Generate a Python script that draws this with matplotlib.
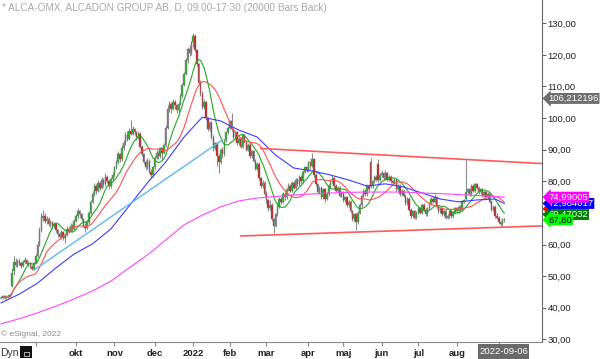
import matplotlib
matplotlib.use('Agg')
import matplotlib.pyplot as plt
from matplotlib.patches import Rectangle
import numpy as np
import pandas as pd

# trading days (Stockholm holidays removed)
holidays = ['2021-12-24', '2021-12-31', '2022-01-06', '2022-04-15', '2022-04-18',
            '2022-05-26', '2022-06-06', '2022-06-24']
dates = pd.bdate_range('2021-08-05', '2022-09-06', freq='C', holidays=holidays)

opens = [
    43.0, 43.2, 43.6, 43.0, 43.4, 43.8, 47.0, 51.5, 54.5, 53.5, 54.8, 54.0, 53.2, 54.6, 55.0, 53.8, 54.2, 53.0, 52.4,
    54.0, 56.5, 60.0, 64.5, 68.5, 69.0, 67.5, 68.2, 66.5, 67.0, 65.8, 66.4, 64.5, 63.2, 62.5, 63.8, 62.2, 63.0, 65.0, 64.2, 66.0, 64.8,
    67.5, 69.0, 70.5, 69.5, 68.0, 66.0, 65.2, 67.0, 70.0, 73.5, 76.0, 78.5, 77.0, 79.5, 78.0, 80.5, 79.0, 81.5, 80.0, 78.5, 80.8,
    82.0, 84.5, 86.0, 88.5, 87.0, 90.5, 92.0, 94.5, 93.5, 96.0, 95.0, 96.5, 95.5, 94.0, 95.0, 91.0, 88.5, 86.0, 84.5, 86.5, 83.0, 82.0,
    84.5, 87.5, 89.0, 88.0, 90.5, 89.0, 91.5, 97.0, 103.0, 104.5, 103.0, 105.0, 104.0, 102.5, 104.5, 107.0, 110.5, 114.0, 118.5, 122.0, 120.5,
    124.0, 126.0, 121.5, 117.0, 111.0, 108.0, 103.5, 105.0, 100.0, 96.5, 98.5, 94.0, 90.5, 92.0, 88.0, 86.0, 90.0, 88.5, 93.0, 95.5,
    97.0, 99.0, 96.5, 94.0, 95.5, 92.0, 93.5, 91.0, 94.5, 92.5, 90.0, 91.5, 88.0, 89.5, 86.5, 84.0, 85.5, 81.0, 78.5, 79.5,
    76.0, 74.0, 71.5, 72.5, 68.0, 66.0, 69.5, 72.0, 74.5, 73.5, 76.0, 75.0, 77.5, 78.5, 77.0, 79.5, 78.0, 80.5, 79.0, 81.5, 80.0, 83.0, 84.5,
    83.5, 86.0, 85.0, 87.0, 82.0, 79.0, 76.5, 78.0, 75.0, 77.5, 74.5, 76.0, 78.5, 80.0, 81.0, 78.5, 77.0, 78.0, 75.5,
    76.5, 74.0, 75.0, 72.5, 73.5, 70.5, 68.0, 69.5, 67.0, 70.0, 72.5, 75.5, 77.0, 76.0, 78.5, 86.0, 78.5, 80.0, 81.5, 85.5, 80.5,
    82.0, 82.5, 81.0, 82.5, 80.5, 81.5, 80.0, 79.5, 80.5, 77.5, 78.5, 76.0, 77.0, 75.5, 73.0, 74.5, 71.0, 69.0, 70.5, 68.5,
    70.0, 71.5, 70.0, 72.5, 71.0, 69.5, 71.5, 73.0, 74.5, 73.5, 75.0, 72.0, 70.5, 71.5, 69.5, 70.5, 68.5, 69.0, 70.5, 69.0, 70.0,
    71.5, 70.5, 72.0, 71.0, 73.5, 74.5, 76.5, 77.5, 76.0, 78.5, 77.0, 79.0, 78.0, 76.5, 77.5, 75.5, 76.5, 75.0, 76.0, 73.5, 71.0, 72.0, 69.0,
    68.5, 67.0, 66.5, 68.0,
]
highs = [
    43.8, 44.0, 43.9, 43.9, 44.3, 44.6, 52.5, 56.5, 55.8, 55.5, 55.6, 54.6, 55.0, 56.0, 55.4, 54.8, 54.5, 53.6, 54.5,
    57.0, 61.0, 65.5, 70.0, 71.0, 70.0, 69.0, 68.8, 67.8, 67.5, 67.2, 66.8, 65.0, 63.8, 64.5, 64.2, 63.6, 65.8, 65.5, 66.8, 66.5, 68.0,
    69.8, 71.5, 71.0, 70.0, 68.5, 66.8, 67.5, 70.5, 74.0, 76.8, 79.5, 79.0, 80.5, 80.0, 81.5, 81.0, 82.5, 82.0, 80.5, 81.5, 83.0,
    85.0, 86.8, 89.5, 89.0, 91.5, 93.0, 95.5, 95.8, 97.0, 99.4, 97.5, 97.0, 96.0, 95.8, 95.5, 91.5, 89.0, 86.8, 87.5, 87.0, 83.8, 85.0,
    88.0, 89.8, 89.5, 91.0, 91.0, 92.0, 97.8, 104.0, 105.5, 105.0, 106.0, 105.8, 104.5, 105.0, 107.5, 111.0, 114.5, 119.0, 122.5, 123.0, 124.5,
    127.0, 126.5, 122.0, 117.5, 112.0, 108.5, 106.0, 105.5, 100.5, 99.0, 99.0, 94.5, 92.5, 92.5, 88.5, 90.5, 91.0, 93.5, 96.0, 97.5,
    99.5, 101.6, 97.0, 96.0, 96.0, 94.0, 94.0, 95.0, 95.0, 93.0, 92.0, 92.0, 90.0, 90.0, 87.0, 86.0, 86.0, 81.5, 80.5, 80.0,
    77.0, 74.5, 74.0, 73.0, 68.5, 70.0, 73.0, 75.0, 75.0, 76.5, 76.5, 78.0, 79.5, 79.0, 80.0, 80.0, 81.0, 81.0, 82.0, 82.0, 83.5, 85.0, 85.0,
    86.5, 86.5, 89.0, 87.5, 82.5, 79.5, 78.5, 78.5, 78.0, 78.0, 76.5, 79.0, 80.5, 82.0, 81.5, 79.0, 78.5, 78.5, 77.0,
    77.0, 75.5, 75.5, 74.0, 74.0, 71.0, 70.0, 70.0, 70.5, 73.0, 76.0, 77.5, 77.5, 79.0, 79.0, 87.5, 80.5, 82.0, 82.0, 87.0, 82.5,
    83.5, 83.0, 83.5, 83.0, 82.0, 82.0, 80.5, 81.0, 81.0, 79.0, 79.0, 77.5, 77.5, 76.0, 75.0, 75.0, 71.5, 71.0, 71.0, 70.5,
    72.0, 72.0, 73.0, 73.0, 71.5, 72.0, 73.5, 75.0, 75.0, 76.0, 75.5, 72.5, 72.0, 72.0, 71.0, 71.0, 69.5, 71.0, 71.0, 70.5, 72.0,
    72.0, 72.5, 72.5, 74.0, 74.5, 86.7, 78.0, 78.0, 79.0, 79.0, 79.5, 79.5, 78.5, 78.0, 78.0, 77.0, 77.0, 76.5, 76.5, 74.0, 72.5, 72.5, 70.0,
    69.0, 67.5, 68.5, 68.5,
]
lows = [
    42.6, 42.9, 42.7, 42.8, 43.1, 43.4, 46.5, 50.5, 52.8, 53.0, 53.5, 52.6, 52.8, 54.0, 53.4, 53.2, 52.6, 51.8, 52.0,
    53.8, 56.0, 59.5, 64.0, 67.5, 66.8, 66.5, 65.8, 65.5, 65.0, 65.2, 64.0, 62.5, 61.8, 62.0, 61.5, 60.5, 62.6, 63.5, 63.8, 64.2, 64.5,
    67.0, 68.5, 68.8, 67.5, 65.5, 64.0, 64.8, 66.5, 69.5, 73.0, 75.5, 76.0, 76.5, 77.2, 77.5, 78.2, 78.5, 79.5, 77.5, 78.0, 80.0,
    81.5, 83.8, 85.5, 86.0, 86.5, 90.0, 91.5, 92.8, 93.0, 94.5, 94.5, 94.8, 93.0, 93.5, 90.5, 88.0, 85.5, 83.5, 84.0, 82.5, 81.2, 81.5,
    84.0, 87.0, 87.0, 87.5, 86.8, 88.5, 91.0, 96.5, 102.0, 101.5, 102.5, 103.0, 101.5, 102.0, 104.0, 106.5, 110.0, 113.5, 117.5, 119.5, 120.0,
    122.5, 121.0, 116.5, 110.5, 107.0, 103.0, 103.0, 99.5, 96.0, 96.0, 93.5, 89.5, 90.0, 85.0, 82.6, 85.5, 87.5, 88.0, 92.5, 95.0,
    96.5, 96.0, 93.5, 93.5, 91.5, 91.5, 90.5, 90.5, 92.0, 89.5, 89.5, 87.5, 87.5, 86.0, 83.5, 83.5, 80.5, 78.0, 78.0, 75.5,
    73.0, 70.5, 71.0, 67.5, 63.6, 65.5, 69.0, 71.5, 72.8, 73.0, 74.2, 74.5, 77.0, 76.5, 76.5, 77.5, 77.5, 78.5, 78.5, 79.5, 79.5, 82.5, 83.0,
    83.0, 84.0, 84.5, 81.5, 78.5, 76.0, 76.0, 74.5, 74.5, 73.5, 74.0, 75.5, 78.0, 79.5, 78.0, 76.5, 76.5, 75.0, 75.0,
    73.5, 73.5, 72.0, 72.0, 70.0, 67.5, 67.5, 64.6, 66.5, 69.5, 72.0, 75.0, 75.5, 75.5, 77.0, 78.0, 78.0, 79.5, 80.0, 79.5, 80.0,
    81.5, 80.5, 80.5, 80.0, 80.0, 79.5, 79.0, 79.0, 77.0, 77.0, 75.5, 75.5, 75.0, 72.5, 72.5, 70.5, 68.5, 68.5, 68.0, 68.0,
    69.5, 69.5, 69.5, 70.5, 69.0, 69.0, 71.0, 72.5, 73.0, 73.0, 71.5, 70.0, 70.0, 69.0, 69.0, 68.0, 68.0, 68.5, 68.5, 68.5, 69.5,
    70.0, 70.0, 70.5, 70.5, 73.0, 74.0, 76.0, 75.5, 75.5, 76.5, 76.5, 77.5, 76.0, 76.0, 75.0, 75.0, 74.5, 74.5, 73.0, 70.5, 70.5, 68.5, 68.0,
    66.5, 65.8, 66.0, 67.0,
]
closes = [
    43.2, 43.6, 43.0, 43.4, 43.8, 44.0, 51.0, 54.5, 53.5, 54.8, 54.0, 53.2, 54.6, 55.0, 53.8, 54.2, 53.0, 52.4, 54.0,
    56.5, 60.0, 64.5, 68.5, 69.0, 67.5, 68.2, 66.5, 67.0, 65.8, 66.4, 64.5, 63.2, 62.5, 63.8, 62.2, 63.0, 65.0, 64.2, 66.0, 64.8, 67.5,
    69.0, 70.5, 69.5, 68.0, 66.0, 65.2, 67.0, 70.0, 73.5, 76.0, 78.5, 77.0, 79.5, 78.0, 80.5, 79.0, 81.5, 80.0, 78.5, 80.8, 82.0,
    84.5, 86.0, 88.5, 87.0, 90.5, 92.0, 94.5, 93.5, 96.0, 95.0, 96.5, 95.5, 94.0, 95.0, 91.0, 88.5, 86.0, 84.5, 86.5, 83.0, 82.0, 84.5,
    87.5, 89.0, 88.0, 90.5, 89.0, 91.5, 97.0, 103.0, 104.5, 103.0, 105.0, 104.0, 102.5, 104.5, 107.0, 110.5, 114.0, 118.5, 122.0, 120.5, 124.0,
    126.0, 121.5, 117.0, 111.0, 108.0, 103.5, 105.0, 100.0, 96.5, 98.5, 94.0, 90.5, 92.0, 88.0, 86.0, 90.0, 88.5, 93.0, 95.5, 97.0,
    99.0, 96.5, 94.0, 95.5, 92.0, 93.5, 91.0, 94.5, 92.5, 90.0, 91.5, 88.0, 89.5, 86.5, 84.0, 85.5, 81.0, 78.5, 79.5, 76.0,
    74.0, 71.5, 72.5, 68.0, 66.0, 69.5, 72.0, 74.5, 73.5, 76.0, 75.0, 77.5, 78.5, 77.0, 79.5, 78.0, 80.5, 79.0, 81.5, 80.0, 83.0, 84.5, 83.5,
    86.0, 85.0, 87.0, 82.0, 79.0, 76.5, 78.0, 75.0, 77.5, 74.5, 76.0, 78.5, 80.0, 81.0, 78.5, 77.0, 78.0, 75.5, 76.5,
    74.0, 75.0, 72.5, 73.5, 70.5, 68.0, 69.5, 67.0, 70.0, 72.5, 75.5, 77.0, 76.0, 78.5, 77.5, 78.5, 80.0, 81.5, 80.5, 80.5, 82.0,
    82.5, 81.0, 82.5, 80.5, 81.5, 80.0, 79.5, 80.5, 77.5, 78.5, 76.0, 77.0, 75.5, 73.0, 74.5, 71.0, 69.0, 70.5, 68.5, 70.0,
    71.5, 70.0, 72.5, 71.0, 69.5, 71.5, 73.0, 74.5, 73.5, 75.0, 72.0, 70.5, 71.5, 69.5, 70.5, 68.5, 69.0, 70.5, 69.0, 70.0, 71.5,
    70.5, 72.0, 71.0, 73.5, 74.0, 76.5, 77.5, 76.0, 78.5, 77.0, 79.0, 78.0, 76.5, 77.5, 75.5, 76.5, 75.0, 76.0, 73.5, 71.0, 72.0, 69.0, 68.5,
    67.0, 66.5, 68.0, 67.8,
]

# slow moving averages, read every 10 bars (+ last bar)
ma_bars = [0, 10, 20, 30, 40, 50, 60, 70, 80, 90, 100, 110, 120, 130, 140,
           150, 160, 170, 180, 190, 200, 210, 220, 230, 240, 250, 260, 270, 275]
ma_blue = [41.5, 44.3, 47.8, 52.6, 57.0, 60.2, 64.9, 72.2, 79.5, 86.1, 94.0, 100.3, 99.1, 96.2, 94.0,
           88.3, 84.2, 83.3, 82.0, 80.4, 78.5, 79.2, 78.2, 76.3, 74.4, 73.5, 74.1, 74.4, 72.98]
ma_magenta = [34.9, 36.5, 38.4, 40.5, 42.8, 45.3, 48.4, 52.6, 56.7, 61.4, 66.2, 69.3, 71.9, 73.8, 74.7,
              75.2, 75.7, 76.0, 76.3, 76.5, 76.6, 76.6, 76.6, 76.3, 76.1, 75.8, 75.5, 75.2, 74.99]

# drawn trend lines (bar, price)
support_bars, support_vals = [18, 121], [51.9, 93.1]
upper_bars, upper_vals = [142, 296], [90.4, 85.6]
lower_bars, lower_vals = [131, 296], [62.7, 65.9]

month_labels = ['', 'okt', 'nov', 'dec', '2022', 'feb', 'mar', 'apr', 'maj', 'jun', 'jul', 'aug', '']

# right-hand price tags: value, text, box colour, text colour
tags = [
    (106.212196, '106,212196', '#6e6e6e', 'white'),
    (71.27, '71,27505', '#ff0000', 'white'),
    (69.47, '69,47032', '#008000', 'white'),
    (72.984017, '72,984017', '#0000ff', 'white'),
    (74.99005, '74,99005', '#ff00ff', 'white'),
    (67.80, '67,80', '#00ff00', 'black'),
]

plt.rcParams['font.family'] = ['Liberation Sans', 'DejaVu Sans']

o = np.array(opens); h = np.array(highs); l = np.array(lows); c = np.array(closes)
n = len(c)
assert len(o) == len(h) == len(l) == n == len(dates)
x = np.arange(n)

fig = plt.figure(figsize=(6, 3.59), dpi=100)
ax = fig.add_axes([0, 17 / 359, 542 / 600, 342 / 359])

# candles
ax.vlines(x, l, h, color='#8c8c8c', lw=0.8, zorder=2)
up = c >= o
body_col = np.where(up, '#2bb02b', '#c82424')
ax.bar(x, np.maximum(np.abs(c - o), 0.15), bottom=np.minimum(o, c), width=0.8,
       color=body_col, edgecolor='#7a7a7a', linewidth=0.3, zorder=3)

# moving averages
s = pd.Series(c)
ax.plot(x, s.rolling(10, min_periods=1).mean(), color='#22a822', lw=0.8, zorder=4)
ax.plot(x, s.rolling(20, min_periods=1).mean(), color='#ff5252', lw=0.8, zorder=4)
ax.plot(ma_bars, ma_blue, color='#3c3cff', lw=0.8, zorder=4)
ax.plot(ma_bars, ma_magenta, color='#ff44ff', lw=0.8, zorder=4)

# trend lines
ax.plot(support_bars, support_vals, color='#5cb8f5', lw=1.0, zorder=5)
ax.plot(upper_bars, upper_vals, color='#ff5a5a', lw=1.2, zorder=5)
ax.plot(lower_bars, lower_vals, color='#ff5a5a', lw=1.2, zorder=5)

ax.set_xlim(-0.55, 295.6)
ax.set_ylim(29.15, 137.37)

# axes styling
for side in ['top', 'left']:
    ax.spines[side].set_visible(False)
ax.spines['right'].set_color('#666666')
ax.spines['bottom'].set_color('#8a8a8a')
ax.yaxis.tick_right()
ax.set_yticks(range(30, 131, 10))
ax.set_yticklabels([f'{v:.2f}'.replace('.', ',') for v in range(30, 131, 10)])
ax.tick_params(axis='y', direction='out', length=3, width=0.8, color='#666666',
               labelsize=6.8, pad=1, labelcolor='#222222')

month_pos = [i for i in range(1, n) if dates[i].month != dates[i - 1].month]
ax.set_xticks(month_pos)
ax.set_xticklabels(month_labels[:len(month_pos)], fontweight='bold')
ax.tick_params(axis='x', direction='out', length=3, width=0.8, color='#8a8a8a',
               labelsize=6.8, pad=2, labelcolor='#222222')

# price tags on the right axis
for val, txt, bg, tc in tags:
    ax.annotate(txt, xy=(1.0, val), xycoords=('axes fraction', 'data'),
                xytext=(4.5, 0), textcoords='offset points', va='center', ha='left',
                fontsize=6.8, color=tc, annotation_clip=False, zorder=10,
                bbox=dict(boxstyle='larrow,pad=0.1', fc=bg, ec='none'))

# header / footer texts
fig.text(2 / 600, 1 - 8 / 359, '* ALCA-OMX, ALCADON GROUP AB, D, 09:00-17:30 (20000 Bars Back)',
         fontsize=7.2, color='#a8a8a8', va='center', ha='left')
fig.text(1 / 600, 1 - 334.5 / 359, '\u00a9 eSignal, 2022', fontsize=6, color='#8a8a8a',
         va='center', ha='left')
fig.text(0, 1 - 353 / 359, 'Dyn', fontsize=7.5, color='#333333', va='center', ha='left')
fig.add_artist(Rectangle((20 / 600, 1 / 359), 12 / 600, 12 / 359, transform=fig.transFigure,
                         fc='#111111', ec='none'))
fig.add_artist(Rectangle((23.5 / 600, 3.5 / 359), 5 / 600, 4 / 359, transform=fig.transFigure,
                         fc='none', ec='#cccccc', lw=0.6))
fig.add_artist(Rectangle((478 / 600, 0), 51 / 600, 15 / 359, transform=fig.transFigure,
                         fc='#6a6a6a', ec='none'))
fig.text(503.5 / 600, 1 - 352 / 359, dates[-1].strftime('%Y-%m-%d'), fontsize=6.8,
         color='white', va='center', ha='center')

fig.savefig('out.png', dpi=100, facecolor='white')
